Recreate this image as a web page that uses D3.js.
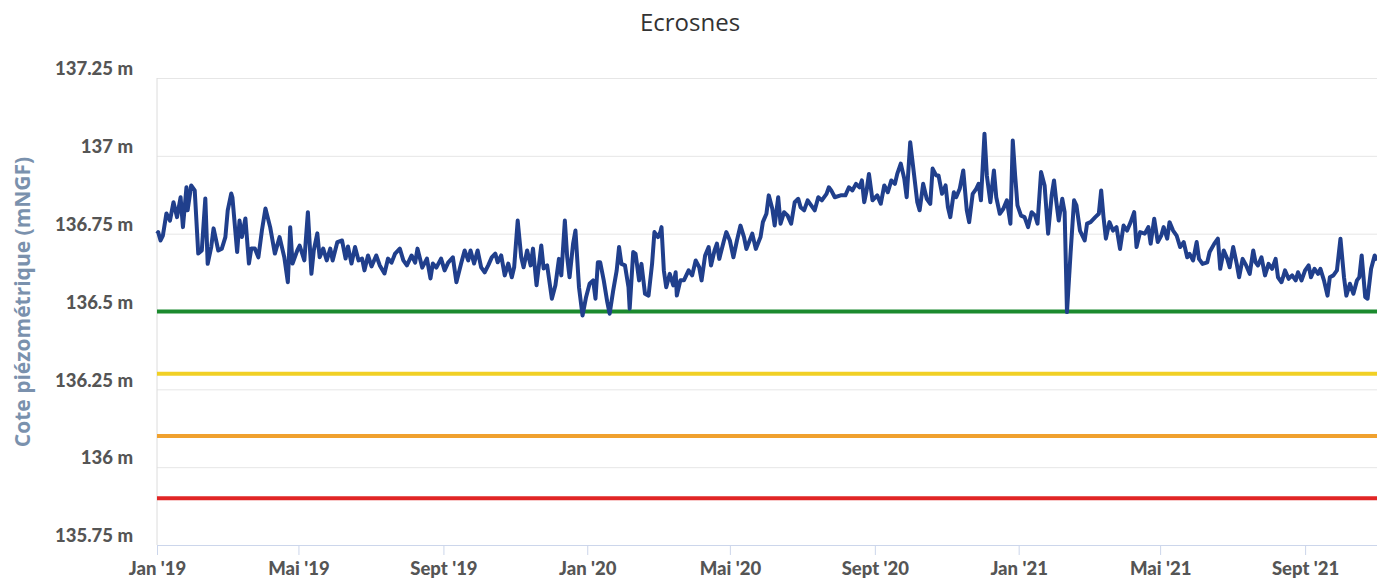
<!DOCTYPE html>
<html>
<head>
<meta charset="utf-8">
<script src="https://cdn.jsdelivr.net/npm/d3@7"></script>
<style>
  body { margin: 0; background: #fff; }
  svg { display: block; }
</style>
</head>
<body>
<div id="chart"></div>
<script>
// piezometer readings, [days since 1 Jan 2019, level in m NGF]
var obs2019 = [
  [0,136.75],[1,136.755],[3,136.728],[5,136.744],[8,136.815],[11,136.792],[14,136.851],[17,136.803],[20,136.867],[22,136.771],
  [25,136.899],[26,136.825],[29,136.905],[32,136.889],[35,136.686],[38,136.696],[41,136.863],[43,136.653],[46,136.707],[48,136.767],
  [52,136.696],[55,136.702],[58,136.739],[60,136.825],[63,136.879],[64,136.866],[68,136.691],[70,136.792],[72,136.739],[75,136.799],
  [78,136.654],[80,136.702],[83,136.702],[86,136.674],[89,136.76],[92,136.831],[96,136.771],[100,136.686],[104,136.739],[108,136.674],
  [111,136.594],[113,136.771],[115,136.654],[119,136.696],[121,136.712],[125,136.664],[128,136.819],[131,136.621],[133,136.696],[136,136.751],
  [138,136.674],[141,136.702],[144,136.664],[147,136.702],[149,136.664],[153,136.723],[157,136.728],[160,136.67],[162,136.709],[165,136.654],
  [168,136.707],[171,136.664],[174,136.67],[176,136.632],[179,136.68],[182,136.645],[186,136.68],[189,136.648],[193,136.622],[196,136.67],
  [199,136.657],[202,136.686],[206,136.702],[209,136.664],[212,136.648],[216,136.68],[219,136.657],[221,136.702],[225,136.641],[229,136.67],
  [232,136.606],[234,136.654],[237,136.641],[241,136.67],[244,136.632],[247,136.657],[251,136.674],[254,136.594],[258,136.654],[261,136.696],
  [264,136.664],[266,136.696],[269,136.654],[272,136.696],[275,136.642],[278,136.626],[281,136.648],[284,136.674],[287,136.686],[289,136.658],
  [292,136.68],[295,136.616],[298,136.654],[301,136.61],[303,136.642],[306,136.792],[309,136.674],[311,136.642],[314,136.696],[317,136.648],
  [319,136.702],[322,136.584],[326,136.712],[328,136.638],[331,136.648],[335,136.541],[338,136.584],[341,136.669],[343,136.616],[346,136.792],
  [348,136.674],[350,136.61],[353,136.718],[355,136.76],[358,136.578],[361,136.487],[364,136.546]
];
var obs2020 = [
  [367,136.589],[370,136.6],[372,136.541],[374,136.658],[376,136.658],[379,136.6],[382,136.53],[384,136.493],[387,136.567],[390,136.632],
  [392,136.707],[394,136.653],[397,136.648],[400,136.578],[401,136.509],[404,136.691],[406,136.685],[409,136.6],[411,136.653],[414,136.557],
  [417,136.551],[420,136.653],[422,136.755],[425,136.739],[427,136.755],[428,136.771],[430,136.632],[432,136.578],[435,136.621],[438,136.584],
  [440,136.626],[441,136.551],[444,136.6],[447,136.6],[451,136.632],[454,136.616],[457,136.664],[460,136.642],[462,136.6],[465,136.68],
  [468,136.707],[470,136.648],[473,136.696],[475,136.718],[477,136.669],[481,136.728],[483,136.755],[486,136.728],[489,136.674],[492,136.728],
  [495,136.776],[498,136.739],[500,136.701],[505,136.75],[508,136.701],[512,136.739],[514,136.787],[517,136.814],[519,136.873],[522,136.83],
  [524,136.776],[527,136.867],[529,136.782],[532,136.819],[535,136.808],[538,136.782],[541,136.851],[544,136.862],[546,136.835],[549,136.825],
  [552,136.857],[555,136.841],[558,136.825],[561,136.867],[564,136.857],[568,136.878],[570,136.899],[572,136.889],[575,136.867],[580,136.873],
  [584,136.873],[587,136.899],[590,136.889],[593,136.91],[596,136.899],[598,136.921],[600,136.851],[602,136.889],[604,136.942],[607,136.857],
  [611,136.873],[614,136.846],[617,136.905],[620,136.883],[623,136.921],[626,136.91],[628,136.942],[631,136.975],[634,136.926],[636,136.867],
  [639,137.044],[642,136.948],[645,136.851],[647,136.825],[650,136.91],[653,136.862],[656,136.846],[658,136.959],[661,136.937],[663,136.937],
  [666,136.878],[669,136.905],[671,136.835],[673,136.803],[676,136.883],[678,136.867],[681,136.894],[684,136.953],[687,136.825],[689,136.787],
  [692,136.878],[695,136.894],[697,136.91],[699,136.857],[702,137.071],[704,136.937],[707,136.851],[710,136.953],[712,136.867],[715,136.814],
  [718,136.83],[721,136.857],[724,136.782],[726,137.049],[728,136.937],[730,136.841]
];
var obs2021 = [
  [733,136.808],[736,136.803],[739,136.771],[742,136.819],[745,136.808],[747,136.782],[750,136.948],[753,136.905],[756,136.75],[759,136.873],
  [761,136.921],[763,136.851],[765,136.792],[768,136.862],[770,136.819],[772,136.498],[775,136.685],[778,136.857],[780,136.841],[783,136.76],
  [787,136.728],[789,136.782],[792,136.787],[796,136.803],[799,136.814],[801,136.889],[803,136.803],[805,136.734],[808,136.787],[811,136.76],
  [814,136.771],[817,136.701],[820,136.776],[823,136.76],[826,136.787],[829,136.819],[831,136.707],[834,136.755],[838,136.75],[841,136.771],
  [843,136.718],[846,136.798],[849,136.723],[852,136.744],[854,136.771],[857,136.734],[859,136.787],[862,136.76],[865,136.744],[868,136.707],
  [871,136.723],[874,136.674],[876,136.685],[879,136.664],[882,136.723],[884,136.669],[887,136.653],[891,136.658],[893,136.691],[897,136.718],
  [900,136.734],[902,136.637],[905,136.696],[908,136.669],[910,136.642],[913,136.707],[916,136.653],[918,136.61],[921,136.669],[924,136.648],
  [927,136.621],[930,136.696],[932,136.658],[934,136.648],[937,136.674],[940,136.616],[943,136.653],[946,136.637],[949,136.669],[951,136.61],
  [954,136.594],[957,136.632],[960,136.605],[963,136.616],[966,136.6],[968,136.626],[971,136.6],[974,136.632],[977,136.648],[979,136.61],
  [982,136.637],[985,136.621],[987,136.637],[990,136.6],[993,136.551],[995,136.61],[998,136.616],[1001,136.632],[1004,136.734],[1007,136.61],
  [1009,136.551],[1012,136.589],[1015,136.557],[1018,136.6],[1020,136.61],[1022,136.68],[1025,136.546],[1027,136.541],[1030,136.637],[1033,136.68],
  [1035,136.664]
];

// alert thresholds (m NGF)
var thresholdLevels = [136.5, 136.3, 136.1, 135.9];
var thresholdColors = ["#1b8a2e", "#f1d025", "#f0a12e", "#e12525"];

var yTicks = [135.75, 136, 136.25, 136.5, 136.75, 137, 137.25];
var xTickDates = ["2019-01-01","2019-05-01","2019-09-01","2020-01-01","2020-05-01","2020-09-01","2021-01-01","2021-05-01","2021-09-01"];
var xTickLabels = ["Jan '19","Mai '19","Sept '19","Jan '20","Mai '20","Sept '20","Jan '21","Mai '21","Sept '21"];

var startDate = new Date(2019, 0, 1);
var endDate = new Date(2021, 10, 1);

var chartWidth = 1377, chartHeight = 578;
var margin = {top: 78, right: 0, bottom: 33, left: 157};
var plotW = chartWidth - margin.left - margin.right;
var plotH = chartHeight - margin.top - margin.bottom;

function dayToDate(d){
    return new Date(2019, 0, 1 + d);
}

var series = obs2019.concat(obs2020, obs2021).map(function(p){
    return {date: dayToDate(p[0]), level: p[1]};
});

var svg = d3.select("#chart")
    .append("svg")
    .attr("width", chartWidth)
    .attr("height", chartHeight);

var x = d3.scaleTime().domain([startDate, endDate]).range([0, plotW]);
var y = d3.scaleLinear().domain([135.75, 137.25]).range([plotH, 0]);

var g = svg.append("g").attr("transform", "translate(" + margin.left + "," + margin.top + ")");

// title
svg.append("text")
    .attr("x", 690)
    .attr("y", 31)
    .attr("text-anchor", "middle")
    .style("font-family", "'Open Sans', sans-serif")
    .style("font-size", "24px")
    .style("fill", "#333")
    .text("Ecrosnes");

// y axis + grid
var yAxis = g.append("g")
    .call(d3.axisLeft(y)
        .tickValues(yTicks)
        .tickSize(-plotW)
        .tickPadding(24)
        .tickFormat(function(v){ return v + " m"; }));
yAxis.select(".domain").remove();
yAxis.selectAll(".tick line").style("stroke", "#e6e6e6");
yAxis.selectAll(".tick text")
    .attr("dy", "-0.18em")
    .style("font-family", "Lato, sans-serif")
    .style("font-weight", "900")
    .style("font-size", "18.5px")
    .style("fill", "#555");

// left border line of the plot
g.append("line")
    .attr("x1", 0).attr("x2", 0)
    .attr("y1", 0).attr("y2", plotH)
    .style("stroke", "#dcdcdc");

// x axis
var xAxis = g.append("g")
    .attr("transform", "translate(0," + plotH + ")")
    .call(d3.axisBottom(x)
        .tickValues(xTickDates.map(function(s){ return d3.timeParse("%Y-%m-%d")(s); }))
        .tickSize(10)
        .tickPadding(7)
        .tickFormat(function(d, i){ return xTickLabels[i]; }));
xAxis.select(".domain").attr("d", "M0,0.5H" + plotW).style("stroke", "#ccd6eb");
xAxis.selectAll(".tick line").style("stroke", "#ccd6eb");
xAxis.selectAll(".tick text")
    .style("font-family", "Lato, sans-serif")
    .style("font-weight", "900")
    .style("font-size", "18.5px")
    .style("fill", "#555");

// y axis title
svg.append("text")
    .attr("transform", "translate(30,302) rotate(-90)")
    .attr("text-anchor", "middle")
    .style("font-family", "'Open Sans', sans-serif")
    .style("font-weight", "bold")
    .style("font-size", "21px")
    .style("fill", "#7a91ad")
    .text("Cote piézométrique (mNGF)");

// threshold lines
g.selectAll(".threshold")
    .data(thresholdLevels)
    .enter()
    .append("line")
    .attr("class", "threshold")
    .attr("x1", 0)
    .attr("x2", plotW)
    .attr("y1", function(d){ return y(d); })
    .attr("y2", function(d){ return y(d); })
    .style("stroke", function(d, i){ return thresholdColors[i]; })
    .style("stroke-width", 4);

// level line
var line = d3.line()
    .x(function(d){ return x(d.date); })
    .y(function(d){ return y(d.level); });

g.append("path")
    .datum(series)
    .attr("d", line)
    .style("fill", "none")
    .style("stroke", "#203f8c")
    .style("stroke-width", 4)
    .style("stroke-linejoin", "round");
</script>
</body>
</html>
